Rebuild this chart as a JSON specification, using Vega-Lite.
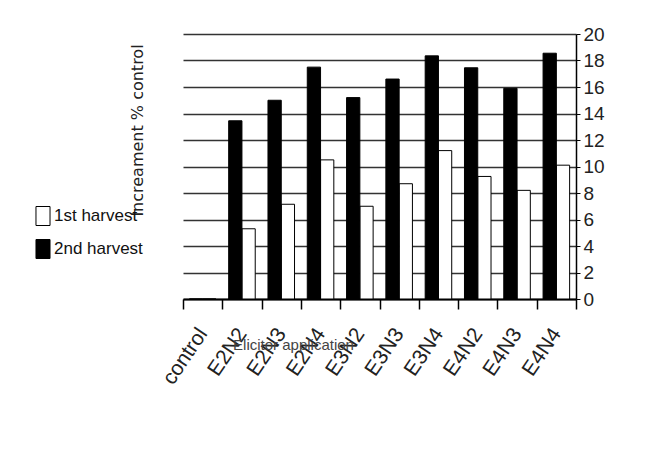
{
  "$schema": "https://vega.github.io/schema/vega-lite/v6.json",
  "width": 393,
  "height": 265,
  "autosize": {"type": "none"},
  "padding": {"left": 183, "top": 34, "right": 78, "bottom": 157},
  "background": "white",
  "data": {
    "values": [
      {"treatment": "control", "harvest": "1st harvest", "increase": 0},
      {"treatment": "control", "harvest": "2nd harvest", "increase": 0},
      {"treatment": "E2N2", "harvest": "1st harvest", "increase": 5.3},
      {"treatment": "E2N2", "harvest": "2nd harvest", "increase": 13.45},
      {"treatment": "E2N3", "harvest": "1st harvest", "increase": 7.15},
      {"treatment": "E2N3", "harvest": "2nd harvest", "increase": 15.0},
      {"treatment": "E2N4", "harvest": "1st harvest", "increase": 10.5},
      {"treatment": "E2N4", "harvest": "2nd harvest", "increase": 17.5},
      {"treatment": "E3N2", "harvest": "1st harvest", "increase": 7.0},
      {"treatment": "E3N2", "harvest": "2nd harvest", "increase": 15.2},
      {"treatment": "E3N3", "harvest": "1st harvest", "increase": 8.7},
      {"treatment": "E3N3", "harvest": "2nd harvest", "increase": 16.6},
      {"treatment": "E3N4", "harvest": "1st harvest", "increase": 11.2},
      {"treatment": "E3N4", "harvest": "2nd harvest", "increase": 18.35},
      {"treatment": "E4N2", "harvest": "1st harvest", "increase": 9.25},
      {"treatment": "E4N2", "harvest": "2nd harvest", "increase": 17.45},
      {"treatment": "E4N3", "harvest": "1st harvest", "increase": 8.2},
      {"treatment": "E4N3", "harvest": "2nd harvest", "increase": 15.9},
      {"treatment": "E4N4", "harvest": "1st harvest", "increase": 10.1},
      {"treatment": "E4N4", "harvest": "2nd harvest", "increase": 18.55}
    ]
  },
  "mark": {"type": "bar", "stroke": "black", "strokeWidth": 1},
  "encoding": {
    "x": {
      "field": "treatment",
      "type": "nominal",
      "sort": null,
      "scale": {"paddingInner": 0, "paddingOuter": 0},
      "axis": {
        "title": "Elicitor application",
        "titleFont": "Liberation Sans",
        "titleFontSize": 15,
        "titleFontWeight": "normal",
        "titleColor": "#444",
        "titleAlign": "center",
        "titleBaseline": "middle",
        "titleX": 110,
        "titleY": 45,
        "labelAngle": -56,
        "labelAlign": "right",
        "labelBaseline": "middle",
        "labelFont": "Liberation Sans",
        "labelFontSize": 21,
        "labelColor": "#222",
        "labelPadding": 21,
        "labelOverlap": false,
        "tickBand": "extent",
        "tickSize": 10,
        "tickColor": "black",
        "tickWidth": 1.5,
        "domainColor": "black",
        "domainWidth": 2,
        "grid": false
      }
    },
    "xOffset": {
      "field": "harvest",
      "type": "nominal",
      "scale": {"domain": ["2nd harvest", "1st harvest"], "paddingInner": 0, "paddingOuter": 0.48}
    },
    "y": {
      "field": "increase",
      "type": "quantitative",
      "scale": {"domain": [0, 20], "nice": false},
      "axis": {
        "orient": "right",
        "values": [0, 2, 4, 6, 8, 10, 12, 14, 16, 18, 20],
        "title": "Increament % control",
        "titleFont": "DejaVu Sans",
        "titleFontSize": 16,
        "titleFontWeight": "normal",
        "titleColor": "#222",
        "titleAngle": 270,
        "titleAlign": "center",
        "titleBaseline": "middle",
        "titleX": -439,
        "titleY": 96,
        "labelFont": "Liberation Sans",
        "labelFontSize": 19,
        "labelColor": "#222",
        "labelPadding": 3,
        "tickSize": 4,
        "tickColor": "black",
        "domainColor": "black",
        "domainWidth": 1.5,
        "grid": true,
        "gridColor": "#333",
        "gridWidth": 1.5
      }
    },
    "color": {
      "field": "harvest",
      "type": "nominal",
      "scale": {"domain": ["1st harvest", "2nd harvest"], "range": ["white", "black"]},
      "legend": {
        "title": null,
        "orient": "none",
        "legendX": -150,
        "legendY": 172,
        "symbolType": "M-0.74,-1H0.74V1H-0.74Z",
        "symbolSize": 361,
        "symbolStrokeColor": "black",
        "symbolStrokeWidth": 1,
        "labelFont": "Liberation Sans",
        "labelFontSize": 17,
        "labelColor": "#111",
        "labelOffset": 1,
        "rowPadding": 9,
        "padding": 0
      }
    }
  },
  "config": {
    "view": {"stroke": null}
  }
}
